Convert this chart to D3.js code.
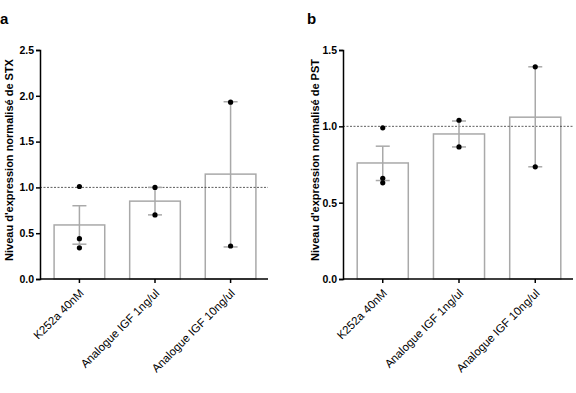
<!DOCTYPE html>
<html>
<head>
<meta charset="utf-8">
<script src="https://cdn.jsdelivr.net/npm/d3@7"></script>
<style>
  body { margin: 0; background: #fff; }
  svg { font-family: "Liberation Sans", Arial, sans-serif; }
  .axis path, .axis line { stroke: #000; stroke-width: 1.5; }
  .axis text { font-size: 10.5px; font-weight: bold; fill: #000; }
</style>
</head>
<body>
<div id="chart"></div>
<script>
// categories shared by both panels
const categories = ["K252a 40nM", "Analogue IGF 1ng/ul", "Analogue IGF 10ng/ul"];

// panel a : STX
const stxMean = [0.59, 0.85, 1.145];
const stxLow = [0.38, 0.70, 0.35];
const stxHigh = [0.80, 1.00, 1.935];
const stxPoints = [[1.01, 0.44, 0.34], [1.00, 0.70], [1.93, 0.36]];
const stxTicks = [0, 0.5, 1.0, 1.5, 2.0, 2.5];

// panel b : PST
const pstMean = [0.76, 0.95, 1.06];
const pstLow = [0.645, 0.865, 0.735];
const pstHigh = [0.87, 1.035, 1.39];
const pstPoints = [[0.99, 0.66, 0.63], [1.04, 0.865], [1.39, 0.735]];
const pstTicks = [0, 0.5, 1.0, 1.5];

const width = 576, height = 393;
let svg = d3.select("#chart").append("svg")
    .attr("width", width)
    .attr("height", height);

function drawPanel(opts) {
    let g = svg.append("g");

    let x = d3.scaleBand()
        .domain(categories)
        .range([opts.left + 2, opts.right])
        .paddingInner(0.33)
        .paddingOuter(0.16);

    let y = d3.scaleLinear()
        .domain([0, opts.max])
        .range([279, 50]);

    // bars
    g.selectAll("rect.bar")
        .data(opts.mean)
        .enter().append("rect")
        .attr("class", "bar")
        .attr("x", (d, i) => x(categories[i]))
        .attr("y", d => y(d))
        .attr("width", x.bandwidth())
        .attr("height", d => y(0) - y(d))
        .attr("fill", "none")
        .attr("stroke", "#a9a9a9")
        .attr("stroke-width", 1.5);

    // reference line at 1
    g.append("line")
        .attr("x1", opts.left)
        .attr("x2", opts.right)
        .attr("y1", y(1))
        .attr("y2", y(1))
        .attr("stroke", "#333")
        .attr("stroke-width", 0.8)
        .attr("stroke-dasharray", "2,1.5");

    // error bars
    let cap = 7;
    opts.mean.forEach((m, i) => {
        let cx = x(categories[i]) + x.bandwidth() / 2;
        g.append("line")
            .attr("x1", cx).attr("x2", cx)
            .attr("y1", y(opts.low[i])).attr("y2", y(opts.high[i]))
            .attr("stroke", "#a9a9a9").attr("stroke-width", 1.5);
        [opts.low[i], opts.high[i]].forEach(v => {
            g.append("line")
                .attr("x1", cx - cap).attr("x2", cx + cap)
                .attr("y1", y(v)).attr("y2", y(v))
                .attr("stroke", "#a9a9a9").attr("stroke-width", 1.5);
        });
        g.selectAll(null)
            .data(opts.points[i])
            .enter().append("circle")
            .attr("cx", cx)
            .attr("cy", d => y(d))
            .attr("r", 2.6)
            .attr("fill", "#000");
    });

    // axes
    let yAxis = d3.axisLeft(y)
        .tickValues(opts.ticks)
        .tickFormat(d3.format(".1f"))
        .tickSize(4)
        .tickSizeOuter(4)
        .tickPadding(2);
    g.append("g")
        .attr("class", "axis")
        .attr("transform", "translate(" + opts.left + ",0)")
        .call(yAxis);

    let xAxis = d3.axisBottom(x)
        .tickSize(4)
        .tickSizeOuter(0);
    let xg = g.append("g")
        .attr("class", "axis")
        .attr("transform", "translate(0," + y(0) + ")")
        .call(xAxis);
    xg.select("path.domain").attr("d", "M" + opts.left + ",0H" + opts.right);
    xg.selectAll("text")
        .style("font-size", "11.5px")
        .style("font-weight", "normal")
        .attr("text-anchor", "end")
        .attr("y", 0)
        .attr("dy", 0)
        .attr("transform", "translate(5,15) rotate(-45)");

    // y title
    g.append("text")
        .attr("transform", "translate(" + opts.titleX + ",160) rotate(-90)")
        .attr("text-anchor", "middle")
        .attr("dy", "0.35em")
        .style("font-size", "11px")
        .style("font-weight", "bold")
        .text(opts.title);

    // panel letter
    g.append("text")
        .attr("x", opts.letterX)
        .attr("y", 24)
        .style("font-size", "15px")
        .style("font-weight", "bold")
        .text(opts.letter);
}

drawPanel({
    left: 40, right: 268, max: 2.5,
    mean: stxMean, low: stxLow, high: stxHigh, points: stxPoints, ticks: stxTicks,
    title: "Niveau d'expression normalisé de STX", titleX: 9,
    letter: "a", letterX: 0
});

drawPanel({
    left: 343, right: 573, max: 1.5,
    mean: pstMean, low: pstLow, high: pstHigh, points: pstPoints, ticks: pstTicks,
    title: "Niveau d'expression normalisé de PST", titleX: 315,
    letter: "b", letterX: 307
});
</script>
</body>
</html>
